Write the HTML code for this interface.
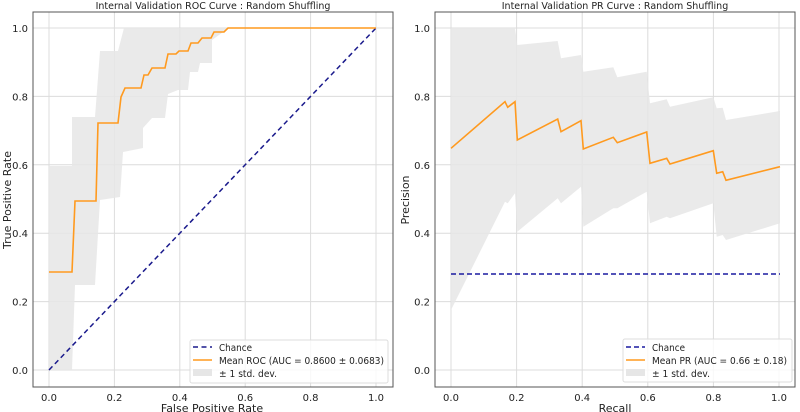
<!DOCTYPE html>
<html><head><meta charset="utf-8"><style>
html,body{margin:0;padding:0;background:#fff;}
svg{display:block;font-family:"DejaVu Sans","Liberation Sans",sans-serif;}
</style></head><body>
<svg width="800" height="412" viewBox="0 0 800 412" xmlns="http://www.w3.org/2000/svg">
<rect width="800" height="412" fill="#fff"/>
<!-- LEFT -->
<g stroke="#dcdcdc" stroke-width="1">
<line x1="49" y1="12" x2="49" y2="387"/><line x1="114.4" y1="12" x2="114.4" y2="387"/><line x1="179.8" y1="12" x2="179.8" y2="387"/><line x1="245.2" y1="12" x2="245.2" y2="387"/><line x1="310.6" y1="12" x2="310.6" y2="387"/><line x1="376" y1="12" x2="376" y2="387"/>
<line x1="33" y1="370" x2="393" y2="370"/><line x1="33" y1="301.6" x2="393" y2="301.6"/><line x1="33" y1="233.2" x2="393" y2="233.2"/><line x1="33" y1="164.8" x2="393" y2="164.8"/><line x1="33" y1="96.4" x2="393" y2="96.4"/><line x1="33" y1="28" x2="393" y2="28"/>
</g>
<polygon fill="#e6e6e6" fill-opacity="0.85" points="49,166 72,166 72,117 95,117 100,51 118,51 124,28 226,28 226,30 212,40 212,63 200,63 198,72 190,72 188,90 178,90 168,94 165,118 152,118 143,128 143,148 123,152 120,197 100,200 95,285 75,285 72,370 49,370"/>
<line x1="49" y1="370" x2="376" y2="28" stroke="#1a1a8c" stroke-width="1.5" stroke-dasharray="5,3.5"/>
<polyline fill="none" stroke="#ff9a1f" stroke-width="1.6" points="49,272 72,272 75,201 96,201 98,123 118,123 121,97 125,88 141,88 144,75 148,75 152,68 165,68 168,54 176,54 179,51 188,51 191,43 198,43 202,38 211,38 214,32 224,32 228,28 376,28"/>
<rect x="33" y="12" width="360" height="375" fill="none" stroke="#555" stroke-width="1"/>
<g font-size="10" fill="#222" text-anchor="middle">
<text x="49" y="401">0.0</text><text x="114.4" y="401">0.2</text><text x="179.8" y="401">0.4</text><text x="245.2" y="401">0.6</text><text x="310.6" y="401">0.8</text><text x="376" y="401">1.0</text>
</g>
<g font-size="10" fill="#222" text-anchor="end">
<text x="28" y="374">0.0</text><text x="28" y="305.6">0.2</text><text x="28" y="237.2">0.4</text><text x="28" y="168.8">0.6</text><text x="28" y="100.4">0.8</text><text x="28" y="32">1.0</text>
</g>
<text x="213" y="9" font-size="9.5" text-anchor="middle" fill="#222">Internal Validation ROC Curve : Random Shuffling</text>
<text x="212" y="412" font-size="11" text-anchor="middle" fill="#222">False Positive Rate</text>
<text transform="translate(11,200) rotate(-90)" font-size="11" text-anchor="middle" fill="#222">True Positive Rate</text>
<rect x="190" y="340" width="198" height="43" fill="#fff" fill-opacity="0.8" stroke="#ddd" rx="2"/>
<line x1="193" y1="347" x2="212" y2="347" stroke="#1a1a8c" stroke-width="1.5" stroke-dasharray="5,3.5"/>
<line x1="193" y1="360" x2="212" y2="360" stroke="#ff9a1f" stroke-width="1.6"/>
<rect x="193" y="369" width="19" height="7" fill="#e6e6e6"/>
<g font-size="9.5" fill="#222"><text x="219" y="351" textLength="33" lengthAdjust="spacingAndGlyphs">Chance</text><text x="219" y="364" textLength="165" lengthAdjust="spacingAndGlyphs">Mean ROC (AUC = 0.8600 ± 0.0683)</text><text x="219" y="377" textLength="58" lengthAdjust="spacingAndGlyphs">± 1 std. dev.</text></g>

<!-- RIGHT -->
<g stroke="#dcdcdc" stroke-width="1">
<line x1="451" y1="12" x2="451" y2="387"/><line x1="516.6" y1="12" x2="516.6" y2="387"/><line x1="582.2" y1="12" x2="582.2" y2="387"/><line x1="647.8" y1="12" x2="647.8" y2="387"/><line x1="713.4" y1="12" x2="713.4" y2="387"/><line x1="779" y1="12" x2="779" y2="387"/>
<line x1="435" y1="370" x2="795" y2="370"/><line x1="435" y1="301.6" x2="795" y2="301.6"/><line x1="435" y1="233.2" x2="795" y2="233.2"/><line x1="435" y1="164.8" x2="795" y2="164.8"/><line x1="435" y1="96.4" x2="795" y2="96.4"/><line x1="435" y1="28" x2="795" y2="28"/>
</g>
<polygon fill="#e6e6e6" fill-opacity="0.85" points="451,28 515,28 517.3,45 557.7,41 561,58.3 581,55 583.3,71.7 613.3,67.3 617.3,77.3 646.7,71.7 650,103.3 666.7,99.3 670,106.7 713.3,97.3 716.7,108.3 722.7,107.7 726,120 780,111 780,223.3 726,240 722.7,235 716.7,236.7 713.3,203.3 670,218.3 666.7,216.7 650,223.3 646.7,191.7 617.3,208.3 613.3,208.3 583.3,226.7 581,186.7 561,203.3 557.7,198.3 517.3,231.7 515,193.3 507.7,203.3 505,201.7 451,310"/>
<line x1="451" y1="274" x2="780" y2="274" stroke="#1a1aa0" stroke-width="1.5" stroke-dasharray="5,3"/>
<polyline fill="none" stroke="#ff9a1f" stroke-width="1.6" points="451,148.3 505,101.7 507.7,107.3 515,101.7 517.3,140 557.7,119 561,131.7 581,120.7 583.3,149 613.3,137.3 617.3,142.7 646.7,132 650,163.3 666.7,158.3 670,164 713.3,150.7 716.7,173.3 722.7,171.7 726,180.3 780,166.7"/>
<rect x="435" y="12" width="360" height="375" fill="none" stroke="#555" stroke-width="1"/>
<g font-size="10" fill="#222" text-anchor="middle">
<text x="451" y="401">0.0</text><text x="516.6" y="401">0.2</text><text x="582.2" y="401">0.4</text><text x="647.8" y="401">0.6</text><text x="713.4" y="401">0.8</text><text x="779" y="401">1.0</text>
</g>
<g font-size="10" fill="#222" text-anchor="end">
<text x="430" y="374">0.0</text><text x="430" y="305.6">0.2</text><text x="430" y="237.2">0.4</text><text x="430" y="168.8">0.6</text><text x="430" y="100.4">0.8</text><text x="430" y="32">1.0</text>
</g>
<text x="615" y="9" font-size="9.5" text-anchor="middle" fill="#222">Internal Validation PR Curve : Random Shuffling</text>
<text x="615" y="412" font-size="11" text-anchor="middle" fill="#222">Recall</text>
<text transform="translate(409,200) rotate(-90)" font-size="11" text-anchor="middle" fill="#222">Precision</text>
<rect x="623" y="339" width="169" height="43" fill="#fff" fill-opacity="0.8" stroke="#ddd" rx="2"/>
<line x1="626" y1="347" x2="645" y2="347" stroke="#1a1aa0" stroke-width="1.5" stroke-dasharray="5,3"/>
<line x1="626" y1="360" x2="645" y2="360" stroke="#ff9a1f" stroke-width="1.6"/>
<rect x="626" y="369" width="19" height="7" fill="#e6e6e6"/>
<g font-size="9.5" fill="#222"><text x="652" y="351" textLength="33" lengthAdjust="spacingAndGlyphs">Chance</text><text x="652" y="364" textLength="135" lengthAdjust="spacingAndGlyphs">Mean PR (AUC = 0.66 ± 0.18)</text><text x="652" y="377" textLength="58" lengthAdjust="spacingAndGlyphs">± 1 std. dev.</text></g>
</svg>
</body></html>
